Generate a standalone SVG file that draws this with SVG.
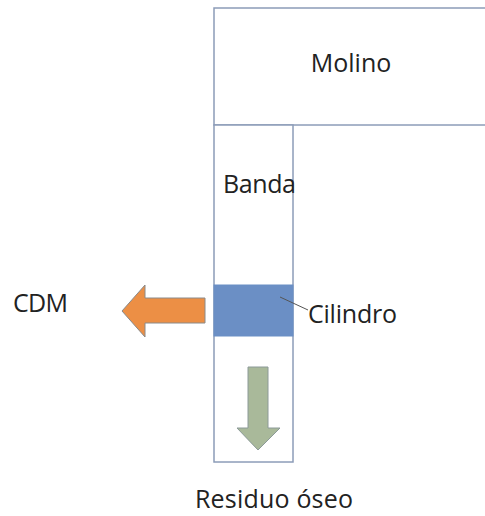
<svg xmlns="http://www.w3.org/2000/svg" width="485" height="516" viewBox="0 0 485 516">
<style>
.box{fill:#fff;stroke:#8c9cb8;stroke-width:1.5}
.t{font-family:"Open Sans","Liberation Sans",sans-serif;font-size:25px;fill:#222}
</style>
<rect width="485" height="516" fill="#fff"/>
<g id="molino"><rect class="box" x="214" y="8" width="280" height="117"/><text class="t" x="351" y="72" text-anchor="middle">Molino</text></g>
<g id="banda"><rect class="box" x="214" y="125" width="79" height="337"/><text class="t" x="223" y="193" textLength="73">Banda</text></g>
<g id="cilindro"><rect x="214" y="285" width="79" height="51" fill="#6b8fc5" stroke="#6b8fc5"/><text class="t" x="308" y="323" textLength="89">Cilindro</text></g>
<g id="cdm"><text class="t" x="13" y="312" textLength="55">CDM</text></g>
<g id="residuo"><text class="t" x="195" y="508" textLength="158">Residuo óseo</text></g>
<g id="connectors">
<line x1="280" y1="297" x2="308" y2="310" stroke="#555" stroke-width="1"/>
<polygon points="205,298 145,298 145,285 122,311 145,337 145,323 205,323" fill="#ec8f45" stroke="#8a8a8a" stroke-width="1"/>
<polygon points="248,367 268,367 268,428 280,428 258,450 237,428 248,428" fill="#a9b99a" stroke="#8c9a98" stroke-width="1"/>
</g>
</svg>
